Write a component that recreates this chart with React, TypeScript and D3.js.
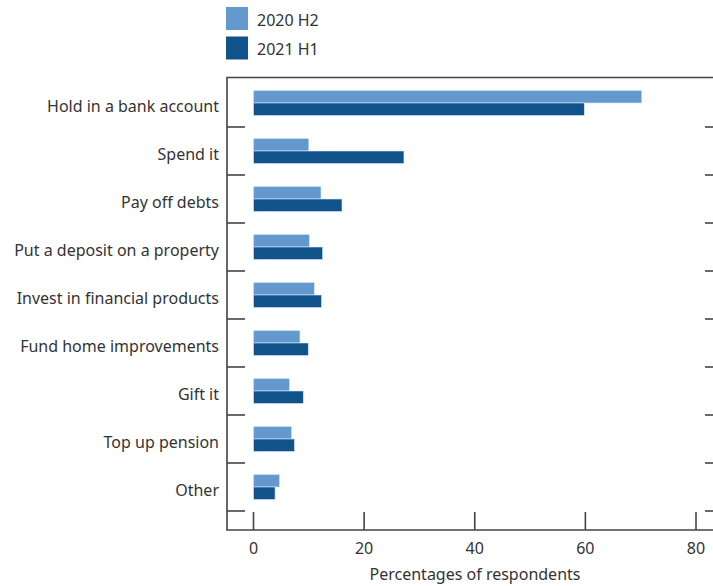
import React from "react";
import * as d3 from "d3";

const categories = [
  "Hold in a bank account",
  "Spend it",
  "Pay off debts",
  "Put a deposit on a property",
  "Invest in financial products",
  "Fund home improvements",
  "Gift it",
  "Top up pension",
  "Other",
];
const series2020H2 = [70.2, 10.0, 12.2, 10.1, 11.0, 8.4, 6.5, 6.9, 4.7];
const series2021H1 = [59.8, 27.2, 16.0, 12.5, 12.3, 9.9, 9.0, 7.4, 3.9];
const seriesNames = ["2020 H2", "2021 H1"];
const xTicks = [0, 20, 40, 60, 80];
const xTitle = "Percentages of respondents";

const W = 713;
const H = 586;
const colors = ["#6399CC", "#10538A"];
const FONT = "'Noto Sans', 'Open Sans', sans-serif";
const TEXT = "#333";
const AX = "#444";

export default function App() {
  const left = 227;
  const top = 77.5;
  const bottom = 530;
  const right = 723;
  const x = d3.scaleLinear().domain([0, 80]).range([253.5, 696]);
  const y = d3.scaleBand<string>().domain(categories).range([79, 511]);
  const barH = 12.5;
  const data = [series2020H2, series2021H1];

  return (
    <svg width={W} height={H} style={{ position: "absolute", left: 0, top: 0 }}>
      <rect width={W} height={H} fill="#fff" />
      {/* legend */}
      {seriesNames.map((n, i) => (
        <g key={n}>
          <rect x={226} y={7 + i * 29.5} width={22} height={23} fill={colors[i]} />
          <text x={257} y={25.5 + i * 29.5} fontSize={16} fill={TEXT} fontFamily={FONT}>
            {n}
          </text>
        </g>
      ))}
      {/* bars */}
      {categories.map((c, ci) => {
        const cy = (y(c) as number) + y.bandwidth() / 2;
        return (
          <g key={c}>
            {data.map((s, si) => (
              <rect
                key={si}
                x={x(0)}
                y={cy - barH + si * barH}
                width={x(s[ci]) - x(0)}
                height={barH}
                fill={colors[si]}
                stroke="#dbe8f4"
                strokeWidth={0.6}
              />
            ))}
            <text
              x={219}
              y={cy + 2.5}
              textAnchor="end"
              dominantBaseline="central"
              fontSize={16}
              fill={TEXT}
              fontFamily={FONT}
            >
              {c}
            </text>
          </g>
        );
      })}
      {/* frame */}
      <path
        d={`M${right},${top}H${left}V${bottom}H${right}`}
        fill="none"
        stroke={AX}
        strokeWidth={1.6}
      />
      {/* separator ticks */}
      {categories.map((c, i) => {
        const yy = (y(c) as number) + y.bandwidth();
        return (
          <g key={"t" + i}>
            <line x1={left} x2={left + 18} y1={yy} y2={yy} stroke={AX} strokeWidth={1.6} />
            <line x1={right - 18} x2={right} y1={yy} y2={yy} stroke={AX} strokeWidth={1.6} />
          </g>
        );
      })}
      {/* x ticks */}
      {xTicks.map((t) => (
        <g key={t}>
          <line x1={x(t)} x2={x(t)} y1={bottom - 18} y2={bottom} stroke={AX} strokeWidth={1.6} />
          <text
            x={x(t)}
            y={554}
            textAnchor="middle"
            fontSize={16}
            fill={TEXT}
            fontFamily={FONT}
          >
            {t}
          </text>
        </g>
      ))}
      <text x={475} y={580} textAnchor="middle" fontSize={16} fill={TEXT} fontFamily={FONT}>
        {xTitle}
      </text>
    </svg>
  );
}
